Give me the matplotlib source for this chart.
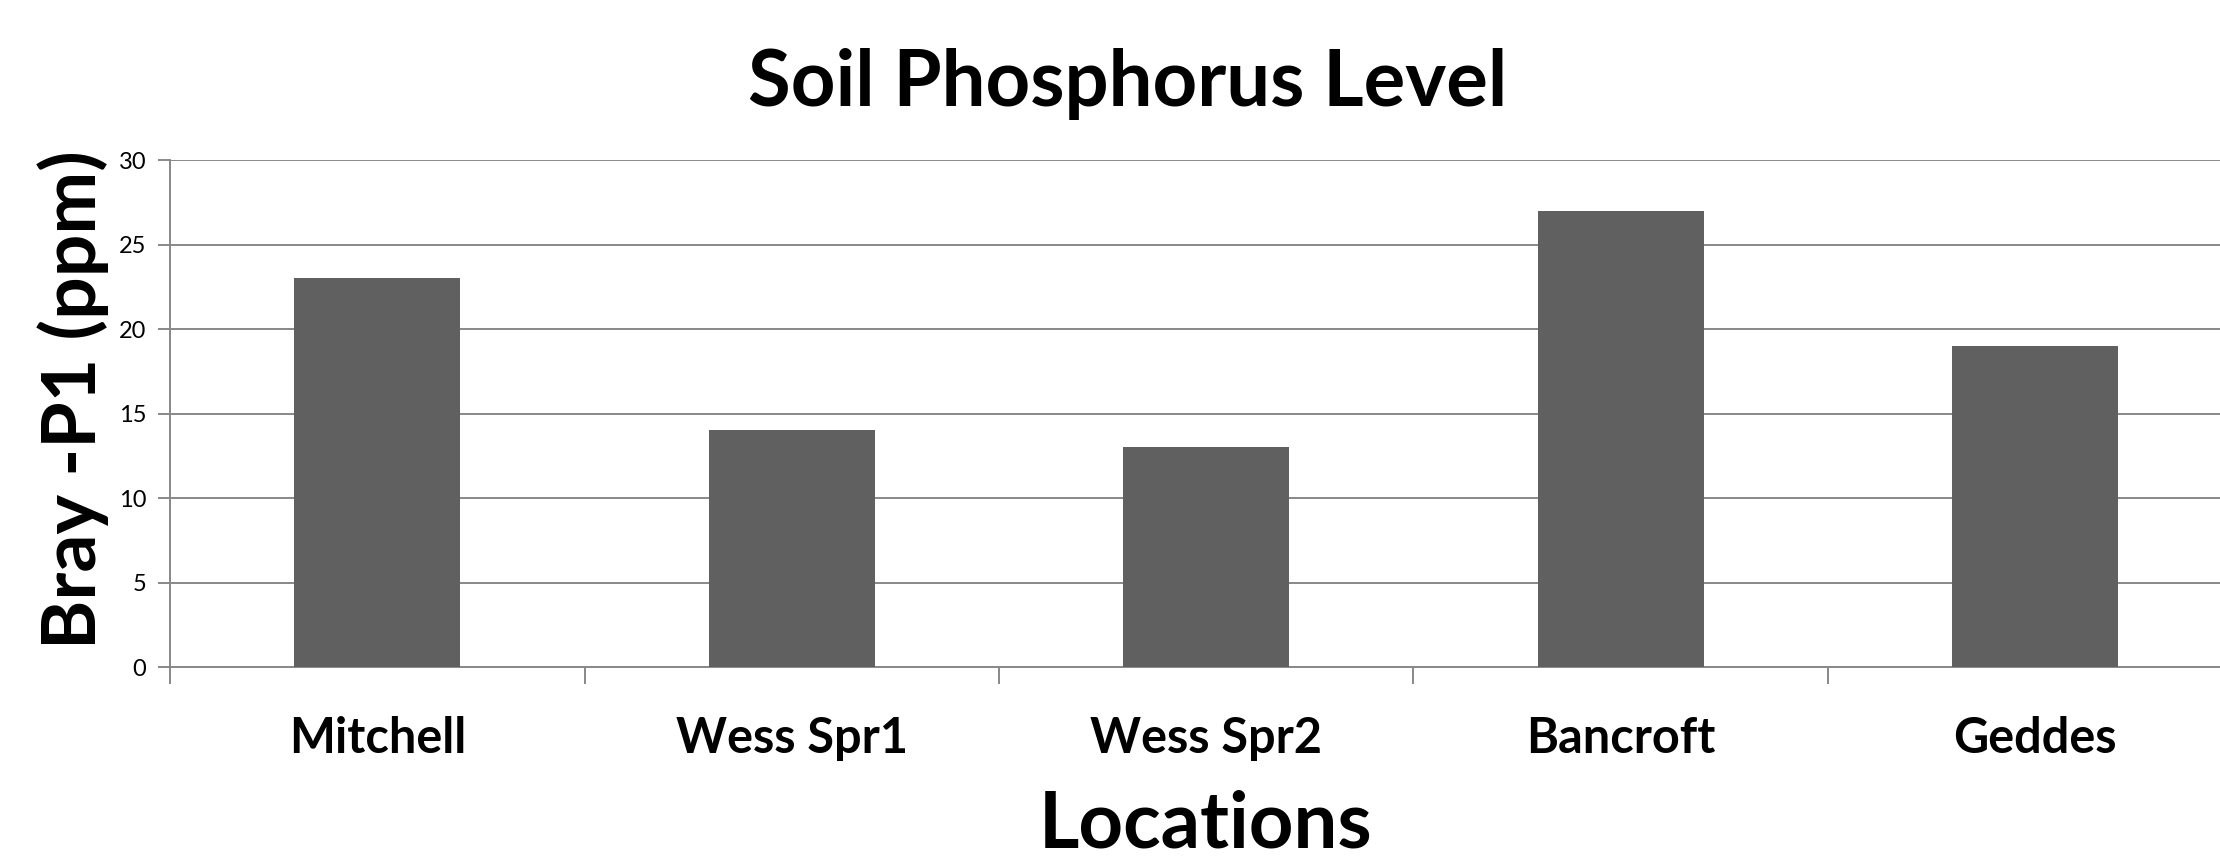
import numpy as np
import matplotlib
matplotlib.use('Agg')
import matplotlib.pyplot as plt

# data
locations = ['Mitchell', 'Wess Spr1', 'Wess Spr2', 'Bancroft', 'Geddes']
bray_p1 = [23, 14, 13, 27, 19]
y_ticks = [0, 5, 10, 15, 20, 25, 30]

plt.rcParams['font.family'] = ['Lato', 'DejaVu Sans']

BAR = '#606060'
GRID = '#888888'

fig = plt.figure(figsize=(22.2, 8.6), dpi=100)
ax = fig.add_axes([0.0766, 0.2244, 0.9335, 0.5895])

x = np.arange(len(locations))
ax.bar(x, bray_p1, width=0.4, color=BAR, zorder=3)

ax.set_xlim(-0.5, len(locations) - 0.5)
ax.set_ylim(0, 30)
ax.set_yticks(y_ticks)
ax.yaxis.grid(True, color=GRID, linewidth=1.4, zorder=0)
ax.tick_params(axis='y', length=9, width=1.4, color=GRID, labelsize=17, pad=8)

# category labels at centres, separator ticks between categories
ax.set_xticks(x)
ax.set_xticklabels(locations, fontsize=35, fontweight='bold')
ax.tick_params(axis='x', which='major', length=0, pad=35)
ax.set_xticks(np.arange(-0.5, len(locations)), minor=True)
ax.tick_params(axis='x', which='minor', length=12, width=1.4, color=GRID)

for side in ['top', 'right']:
    ax.spines[side].set_visible(False)
for side in ['left', 'bottom']:
    ax.spines[side].set_color(GRID)
    ax.spines[side].set_linewidth(1.4)

fig.text(0.508, 0.877, 'Soil Phosphorus Level', ha='center', va='baseline',
         fontsize=56, fontweight='bold')
fig.text(0.543, 0.015, 'Locations', ha='center', va='baseline',
         fontsize=56, fontweight='bold')
fig.text(0.033, 0.535, 'Bray -P1 (ppm)', rotation=90, ha='center', va='center',
         fontsize=54, fontweight='bold')

fig.savefig('out.png', dpi=100)
plt.close()
